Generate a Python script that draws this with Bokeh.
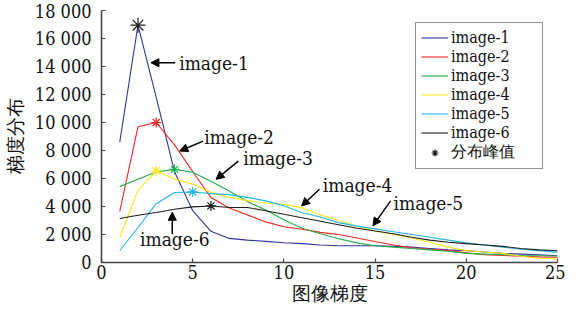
from bokeh.plotting import figure
from bokeh.models import Range1d, FixedTicker, Arrow, NormalHead, Legend, LegendItem
from bokeh.core.properties import value
from bokeh.embed import file_html
from bokeh.resources import INLINE

# ---------------- data ----------------
x_vals = list(range(1, 26))
image_1 = [8600, 16950, 11800, 6500, 3700, 2230, 1720, 1600, 1510, 1410, 1350, 1250, 1200,
           1200, 1200, 1150, 1100, 1000, 900, 850, 750, 650, 600, 550, 480]
image_2 = [3640, 9700, 10000, 8400, 6500, 4650, 3900, 3400, 2900, 2550, 2380, 2150, 2000,
           1750, 1500, 1250, 1050, 950, 850, 700, 550, 500, 450, 400, 370]
image_3 = [5420, 5940, 6460, 6650, 6450, 5800, 5100, 4350, 3750, 3050, 2450, 2050, 1700,
           1400, 1200, 1100, 1000, 900, 800, 650, 600, 550, 500, 480, 460]
image_4 = [1800, 5150, 6550, 5950, 5600, 5000, 4650, 4420, 4250, 4150, 3900, 3400, 3000,
           2600, 2250, 2000, 1750, 1450, 1100, 850, 750, 650, 450, 300, 250]
image_5 = [840, 2500, 4200, 5000, 5040, 4920, 4850, 4650, 4400, 4050, 3550, 3250, 2850,
           2600, 2400, 2200, 2000, 1800, 1600, 1400, 1250, 1100, 950, 850, 720]
image_6 = [3140, 3380, 3570, 3800, 3970, 4040, 3930, 3930, 3700, 3450, 3200, 2950, 2700,
           2450, 2250, 2050, 1800, 1600, 1450, 1350, 1250, 1150, 1000, 900, 840]

series_names = ["image-1", "image-2", "image-3", "image-4", "image-5", "image-6"]
series_values = [image_1, image_2, image_3, image_4, image_5, image_6]
line_colors = ["#34359c", "#ff2222", "#1fae4c", "#f7e81a", "#22b6e8", "#1e1e1e"]
peak_colors = ["#1e1e1e", "#ff2222", "#1fae4c", "#f7e81a", "#22b6e8", "#1e1e1e"]
peak_sizes = [15, 10, 10, 10, 10, 10]

y_ticks = [0, 2000, 4000, 6000, 8000, 10000, 12000, 14000, 16000, 18000]
y_tick_labels = ["0", "2 000", "4 000", "6 000", "8 000", "10 000", "12 000",
                 "14 000", "16 000", "18 000"]
x_ticks = [0, 5, 10, 15, 20, 25]
x_label = "图像梯度"
y_label = "梯度分布"

# annotation arrows: (label, text_x, text_y, x_start, y_start, x_end, y_end)
annotations = [
    ("image-1", 4.26, 14270, 4.04, 14270, 2.71, 14270),
    ("image-2", 5.64, 8930, 5.57, 8670, 4.29, 7960),
    ("image-3", 7.77, 7440, 7.50, 7245, 6.28, 5940),
    ("image-4", 12.13, 5515, 11.95, 5230, 10.97, 4040),
    ("image-5", 16.01, 4235, 15.85, 4400, 14.88, 2620),
    ("image-6", 2.11, 1670, 3.88, 2030, 3.88, 3590),
]

SERIF = "DejaVu Serif Condensed"
CJK_LABEL = "DejaVu Serif"

p = figure(width=565, height=306, output_backend="svg", toolbar_location=None,
           x_range=Range1d(0, 25), y_range=Range1d(0, 18000),
           min_border_left=96, min_border_right=8, min_border_top=10, min_border_bottom=0)
p.outline_line_color = None
p.grid.visible = False
p.background_fill_color = "white"

for ax in (p.xaxis[0], p.yaxis[0]):
    ax.axis_line_color = "#444444"
    ax.axis_line_width = 1.6
    ax.major_tick_line_color = "#444444"
    ax.major_tick_line_width = 1.2
    ax.major_tick_in = 4
    ax.major_tick_out = 0
    ax.minor_tick_line_color = None
    ax.major_label_text_font = SERIF
    ax.major_label_text_font_size = "18px"
    ax.major_label_text_color = "#111111"
    ax.axis_label_text_font = CJK_LABEL
    ax.axis_label_text_font_size = "19px"
    ax.axis_label_text_font_style = "normal"
    ax.axis_label_text_color = "#111111"

p.xaxis.ticker = FixedTicker(ticks=x_ticks)
p.yaxis.ticker = FixedTicker(ticks=y_ticks)
p.yaxis.major_label_overrides = {t: l for t, l in zip(y_ticks, y_tick_labels)}
p.xaxis.axis_label = x_label
p.yaxis.axis_label = y_label
p.xaxis.major_label_standoff = 2
p.xaxis.axis_label_standoff = 0
p.yaxis.major_label_standoff = 10
p.yaxis.axis_label_standoff = 6

items = []
peak_renderers = []
for name, vals, lc, pc, ps in zip(series_names, series_values, line_colors, peak_colors, peak_sizes):
    r = p.line(x_vals, vals, line_color=lc, line_width=1.1)
    items.append(LegendItem(label=name, renderers=[r]))
    k = vals.index(max(vals))
    pr = p.scatter([x_vals[k]], [vals[k]], marker="asterisk", size=ps,
                   line_color=pc, line_width=1.2)
    peak_renderers.append(pr)

for label, tx, ty, xs, ys, xe, ye in annotations:
    p.add_layout(Arrow(end=NormalHead(size=8, fill_color="black", line_color="black"),
                       x_start=xs, y_start=ys, x_end=xe, y_end=ye,
                       line_color="black", line_width=1.5))
    p.text([tx], [ty], text=[label], text_font=value(SERIF), text_font_size="19px",
           text_align="left", text_baseline="middle", text_color="#111111")

items.append(LegendItem(label="分布峰值", renderers=[peak_renderers[-1]]))
legend = Legend(items=items, location=(314, 93), margin=0, padding=5, spacing=0,
                label_height=17, glyph_height=17, glyph_width=27, label_standoff=3,
                label_width=86,
                label_text_font=SERIF,
                label_text_font_size="16px", label_text_color="#111111",
                border_line_color="#222222", border_line_width=1.2,
                background_fill_color="white", background_fill_alpha=1.0)
p.add_layout(legend)

open("out.html", "w").write(file_html(p, INLINE))
